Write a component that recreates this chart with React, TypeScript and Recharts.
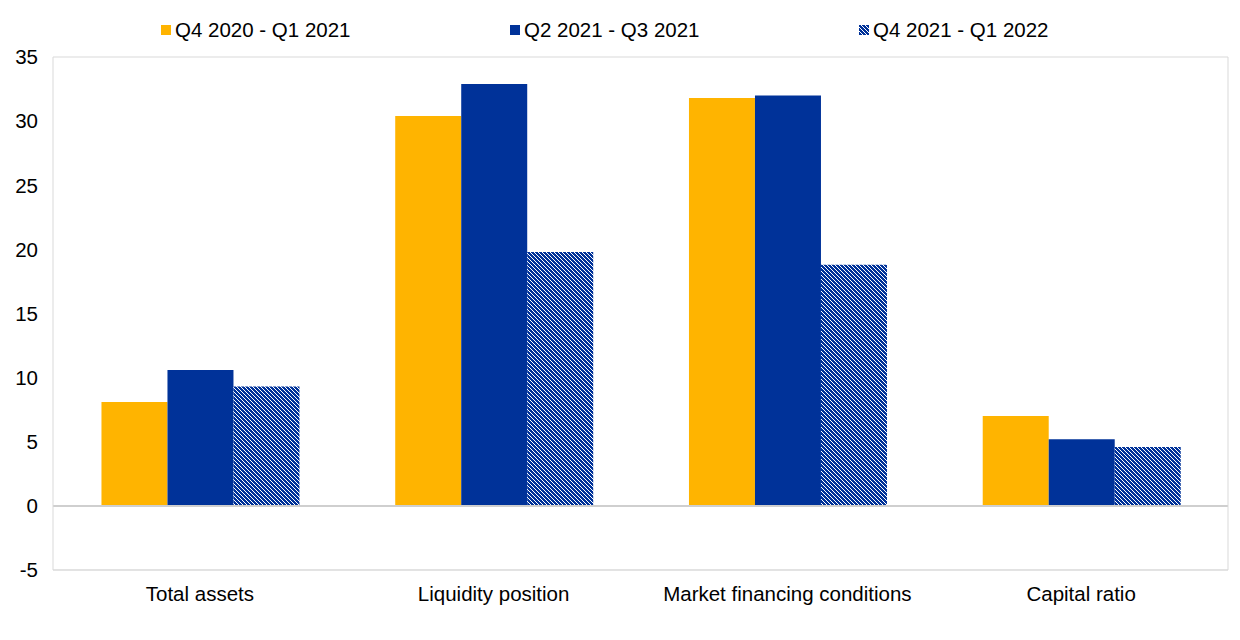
// Bank-level drivers, three survey windows side by side.
import { Bar, BarChart, CartesianGrid, ReferenceLine, XAxis, YAxis } from "recharts";

const categories = ["Total assets", "Liquidity position", "Market financing conditions", "Capital ratio"];
const q4_2020 = [8.1, 30.4, 31.8, 7.0];
const q2_2021 = [10.6, 32.9, 32.0, 5.2];
const q4_2021 = [9.3, 19.8, 18.8, 4.6];
const seriesNames = ["Q4 2020 - Q1 2021", "Q2 2021 - Q3 2021", "Q4 2021 - Q1 2022"];
const yTicks = [-5, 0, 5, 10, 15, 20, 25, 30, 35];

const YELLOW = "#FFB400";
const BLUE = "#003299";
const GRID = "#d9d9d9";
const FONT = "'Liberation Sans', Arial, sans-serif";

const data = categories.map((name, i) => ({
  name,
  a: q4_2020[i],
  b: q2_2021[i],
  c: q4_2021[i],
}));

const legendFills = [YELLOW, BLUE, "url(#hatchLegend)"];

function Hatch({ id }: { id: string }) {
  return (
    <pattern id={id} width={4} height={4} patternUnits="userSpaceOnUse">
      <rect width={4} height={4} fill="#fff" />
      <path
        d="M-1,-1 L5,5 M3,-1 L5,1 M-1,3 L1,5"
        stroke={BLUE}
        strokeWidth={1.6}
        shapeRendering="crispEdges"
      />
    </pattern>
  );
}

export default function App() {
  return (
    <div style={{ position: "absolute", left: 0, top: 0, width: 1240, height: 640, background: "#fff", fontFamily: FONT }}>
      <div style={{ position: "absolute", top: 18, left: 160, display: "flex", fontSize: 20.5, color: "#000" }}>
        {seriesNames.map((s, i) => (
          <div key={s} style={{ width: 349, display: "flex", alignItems: "center" }}>
            <svg width={14} height={12} style={{ marginRight: 1 }}>
              <defs>
                <Hatch id="hatchLegend" />
              </defs>
              <rect x={1} y={1} width={10} height={10} fill={legendFills[i]} />
            </svg>
            <span>{s}</span>
          </div>
        ))}
      </div>
      <BarChart
        width={1240}
        height={640}
        data={data}
        margin={{ top: 57, right: 11, bottom: 30, left: 0 }}
        barCategoryGap="16.5%"
        barGap={0}
      >
        <defs>
          <Hatch id="hatchBar" />
        </defs>
        <CartesianGrid stroke={GRID} vertical={false} />
        <XAxis
          dataKey="name"
          height={40}
          tickLine={false}
          axisLine={{ stroke: GRID }}
          tick={{ fontSize: 20.5, fill: "#000", fontFamily: FONT }}
          tickMargin={10}
          interval={0}
        />
        <YAxis
          yAxisId="l"
          domain={[-5, 35]}
          ticks={yTicks}
          width={53}
          tickLine={false}
          axisLine={{ stroke: GRID }}
          tick={{ fontSize: 20.5, fill: "#000", fontFamily: FONT }}
          tickMargin={9}
          interval={0}
        />
        <YAxis
          yAxisId="r"
          orientation="right"
          domain={[-5, 35]}
          ticks={yTicks}
          width={1}
          tick={false}
          tickLine={false}
          axisLine={{ stroke: GRID }}
        />
        <ReferenceLine yAxisId="l" y={0} stroke="#cfcfcf" strokeWidth={2} />
        <Bar yAxisId="l" dataKey="a" name={seriesNames[0]} fill={YELLOW} isAnimationActive={false} />
        <Bar yAxisId="l" dataKey="b" name={seriesNames[1]} fill={BLUE} isAnimationActive={false} />
        <Bar yAxisId="l" dataKey="c" name={seriesNames[2]} fill="url(#hatchBar)" isAnimationActive={false} />
      </BarChart>
    </div>
  );
}
